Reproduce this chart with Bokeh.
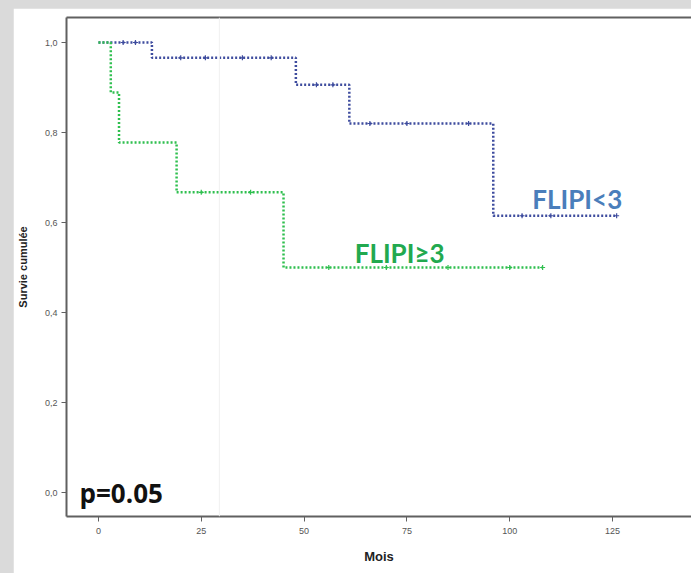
from bokeh.plotting import figure
from bokeh.layouts import column
from bokeh.models import FixedTicker, CustomJSTickFormatter, Label, Span, LinearAxis
from bokeh.embed import file_html
from bokeh.resources import INLINE

# Data
low_times = [0, 13, 48, 61, 96, 126]
low_surv = [1.0, 0.966, 0.906, 0.82, 0.615, 0.615]
low_cens_t = [6, 9, 20, 26, 35, 42, 53, 57, 66, 75, 90, 103, 110, 126]
low_cens_s = [1.0, 1.0, 0.966, 0.966, 0.966, 0.966, 0.906, 0.906, 0.82, 0.82, 0.82, 0.615, 0.615, 0.615]

high_times = [0, 3, 5, 19, 45, 108]
high_surv = [1.0, 0.889, 0.778, 0.667, 0.5, 0.5]
high_cens_t = [25, 37, 56, 70, 85, 100, 108]
high_cens_s = [0.667, 0.667, 0.5, 0.5, 0.5, 0.5, 0.5]

x_ticks = [0, 25, 50, 75, 100, 125]
y_ticks = [0.0, 0.2, 0.4, 0.6, 0.8, 1.0]

BLUE = "#3e4c9e"
GREEN = "#2fbf4f"

p = figure(width=678, height=565, output_backend="svg", toolbar_location=None,
           x_range=(-7.77, 144.2), y_range=(-0.0533, 1.0556),
           min_border_left=52, min_border_top=9, min_border_right=0, min_border_bottom=57,
           margin=(8, 0, 0, 13))
p.background_fill_color = "white"
p.border_fill_color = "white"
p.outline_line_color = None
p.xgrid.visible = False
p.ygrid.visible = False

bx = p.below[0]
ly = p.left[0]
for ax in (bx, ly):
    ax.axis_line_color = "#606060"
    ax.axis_line_width = 2
    ax.major_tick_line_color = "#606060"
    ax.major_tick_out = 5
    ax.major_tick_in = 0
    ax.minor_tick_line_color = None
    ax.major_label_text_font = "Liberation Sans"
    ax.major_label_text_font_size = "9px"
    ax.major_label_text_color = "#555555"
    ax.axis_label_text_font = "Liberation Sans"
    ax.axis_label_text_font_style = "bold"
    ax.axis_label_text_color = "#222222"

bx.ticker = FixedTicker(ticks=x_ticks)
ly.ticker = FixedTicker(ticks=y_ticks)
ly.formatter = CustomJSTickFormatter(code="return tick.toFixed(1).replace('.', ',');")
bx.axis_label = "Mois"
ly.axis_label = "Survie cumulée"
bx.axis_label_text_font_size = "13px"
ly.axis_label_text_font_size = "11px"
bx.axis_label_standoff = 12
ly.axis_label_standoff = 13
bx.major_label_standoff = 6
ly.major_label_standoff = 4

top_ax = LinearAxis(ticker=FixedTicker(ticks=[]), major_tick_line_color=None,
                    minor_tick_line_color=None, major_label_text_font_size="0px",
                    major_label_standoff=0, axis_line_color="#606060", axis_line_width=2)
p.add_layout(top_ax, "above")

p.add_layout(Span(location=29.4, dimension="height", line_color="#f0f0f0", line_width=1))

p.step(low_times, low_surv, mode="after", line_color=BLUE, line_width=2.5, line_dash="2 2")
p.step(high_times, high_surv, mode="after", line_color=GREEN, line_width=2.5, line_dash="2 2")
p.scatter(low_cens_t, low_cens_s, marker="cross", size=5, line_color=BLUE, line_width=1.2)
p.scatter(high_cens_t, high_cens_s, marker="cross", size=5, line_color=GREEN, line_width=1.2)

p.add_layout(Label(x=105.5, y=0.652, text="FLIPI<3", text_font="Lato", text_font_style="bold",
                   text_font_size="26px", text_color="#4a7ebb", text_baseline="middle"))
p.add_layout(Label(x=62.3, y=0.532, text="FLIPI≥3", text_font="Lato", text_font_style="bold",
                   text_font_size="26px", text_color="#22a94f", text_baseline="middle"))
p.add_layout(Label(x=-4.6, y=0.0, text="p=0.05", text_font="Open Sans", text_font_style="bold",
                   text_font_size="26px", text_color="#111111", text_baseline="middle"))

root = column(p, styles={"background-color": "#dadada"})
open("out.html", "w").write(file_html(root, INLINE))
